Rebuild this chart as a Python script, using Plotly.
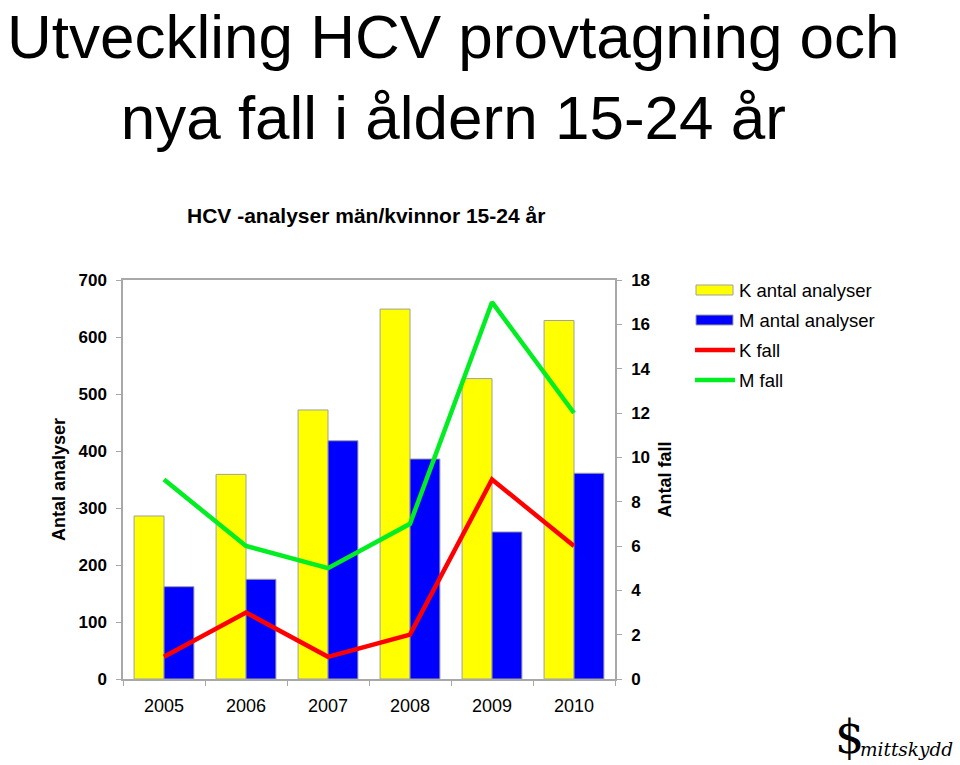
import plotly.graph_objects as go

years = ["2005", "2006", "2007", "2008", "2009", "2010"]
k_analyser = [286, 359, 472, 649, 527, 629]
m_analyser = [162, 175, 418, 386, 258, 361]
k_fall = [1, 3, 1, 2, 9, 6]
m_fall = [9, 6, 5, 7, 17, 12]

names = ["K antal analyser", "M antal analyser", "K fall", "M fall"]
colors = ["#FFFF00", "#0000FF", "#FF0000", "#00EE22"]

fig = go.Figure()
fig.add_trace(go.Bar(x=years, y=k_analyser, name=names[0], marker=dict(color=colors[0], line=dict(color="#A0A0A0", width=1))))
fig.add_trace(go.Bar(x=years, y=m_analyser, name=names[1], marker=dict(color=colors[1], line=dict(color="#A0A0A0", width=1))))
fig.add_trace(go.Scatter(x=years, y=k_fall, name=names[2], mode="lines", line=dict(color=colors[2], width=4.5), yaxis="y2"))
fig.add_trace(go.Scatter(x=years, y=m_fall, name=names[3], mode="lines", line=dict(color=colors[3], width=4.5), yaxis="y2"))

FONT = "Liberation Sans, Arial, sans-serif"

fig.update_layout(
    width=960, height=765,
    margin=dict(l=123, r=345, t=280, b=86),
    paper_bgcolor="white", plot_bgcolor="white",
    barmode="group", bargap=0.27, bargroupgap=0,
    showlegend=False,
    font=dict(family=FONT, color="black"),
    xaxis=dict(
        showline=True, linecolor="#A8A8A8", linewidth=1.5, mirror=True,
        ticks="outside", tickson="boundaries", ticklen=5, tickcolor="#A8A8A8",
        tickfont=dict(family=FONT, size=18, color="black"),
        ticklabelstandoff=10,
        showgrid=False, fixedrange=True,
    ),
    yaxis=dict(
        range=[0, 700], dtick=100, showgrid=False, zeroline=False,
        showline=True, linecolor="#A8A8A8", linewidth=1.5, mirror=True,
        ticks="outside", ticklen=5, tickcolor="#A8A8A8",
        tickfont=dict(family=FONT, size=17, color="black", weight="bold"),
        ticklabelstandoff=6,
        title=dict(text="<b>Antal analyser</b>", font=dict(size=18), standoff=8),
    ),
    yaxis2=dict(
        range=[0, 18], dtick=2, overlaying="y", side="right", showgrid=False, zeroline=False,
        showline=True, linecolor="#A8A8A8", linewidth=1.5,
        ticks="outside", ticklen=5, tickcolor="#A8A8A8",
        tickfont=dict(family=FONT, size=17, color="black", weight="bold"),
        ticklabelstandoff=6,
        title=dict(text="<b>Antal fall</b>", font=dict(size=18), standoff=9),
    ),
)

px = lambda v: (v - 123) / 492
py = lambda v: 1 - (v - 280) / 399

# Main titles
fig.add_annotation(text="Utveckling HCV provtagning och<br>nya fall i åldern 15-24 år",
                   xref="paper", yref="paper", x=px(453), y=py(0),
                   xanchor="center", yanchor="top", showarrow=False,
                   font=dict(family=FONT, size=62, color="black"))
fig.add_annotation(text="<b>HCV -analyser män/kvinnor 15-24 år</b>",
                   xref="paper", yref="paper", x=px(366), y=py(215),
                   xanchor="center", yanchor="middle", showarrow=False,
                   font=dict(family=FONT, size=21, color="black"))

# Custom legend
leg_x0 = 696
leg_y0 = 290
for i, (nm, col) in enumerate(zip(names, colors)):
    yc = leg_y0 + i * 30
    if i < 2:
        fig.add_shape(type="rect", xref="paper", yref="paper",
                      x0=px(leg_x0), x1=px(leg_x0 + 37), y0=py(yc - 5), y1=py(yc + 5),
                      fillcolor=col, line=dict(color="#A0A0A0", width=1))
    else:
        fig.add_shape(type="line", xref="paper", yref="paper",
                      x0=px(leg_x0 - 1), x1=px(leg_x0 + 39), y0=py(yc), y1=py(yc),
                      line=dict(color=col, width=4.5))
    fig.add_annotation(text=nm, xref="paper", yref="paper", x=px(leg_x0 + 41), y=py(yc),
                       xanchor="left", yanchor="middle", showarrow=False,
                       font=dict(family=FONT, size=18.5, color="black"))

# Logo
fig.add_annotation(text="$", xref="paper", yref="paper", x=px(849), y=py(737),
                   xanchor="center", yanchor="middle", showarrow=False,
                   font=dict(family="DejaVu Serif, serif", size=46, color="black"))
fig.add_annotation(text="<i>mittskydd</i>", xref="paper", yref="paper", x=px(858), y=py(749),
                   xanchor="left", yanchor="middle", showarrow=False,
                   font=dict(family="DejaVu Serif, serif", size=18.5, color="black"))

fig.write_html("out.html")
